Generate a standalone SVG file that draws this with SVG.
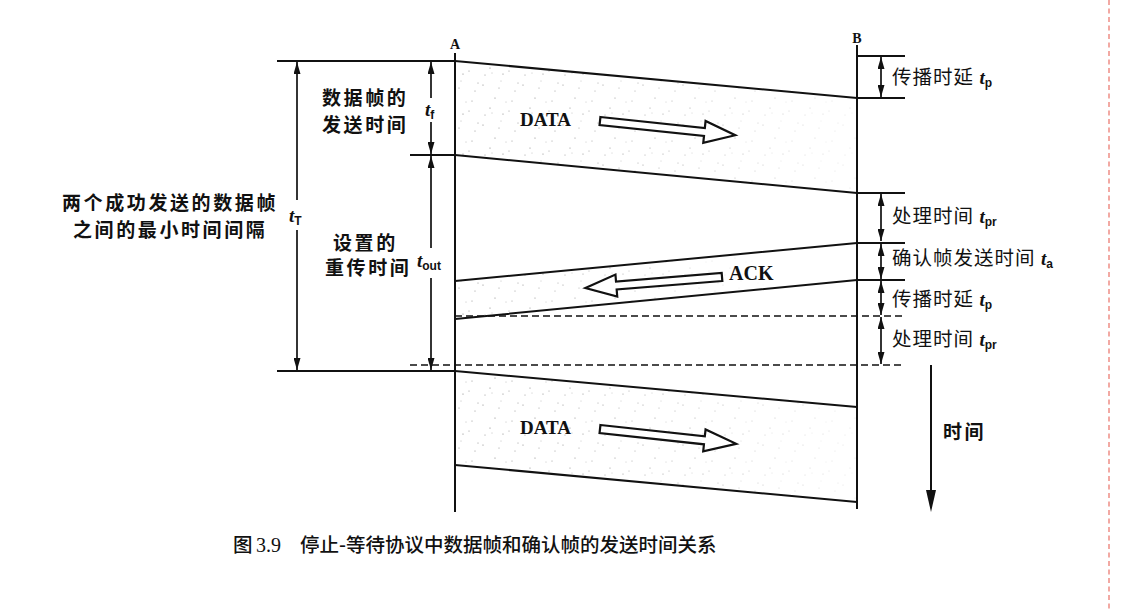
<svg xmlns="http://www.w3.org/2000/svg" width="1121" height="611" viewBox="0 0 1121 611">
<style>
.ln{stroke:#111;stroke-width:2;fill:none}
.dl{stroke:#111;stroke-width:1.6;fill:none;stroke-dasharray:7 4}
.dim{stroke:#111;stroke-width:1.7;fill:none;marker-end:url(#ah)}
.cn{font-family:"Noto Sans CJK SC",sans-serif;font-weight:bold;font-size:19px;fill:#111;letter-spacing:2.6px}
.cr{font-family:"Noto Sans CJK SC",sans-serif;font-weight:normal;font-size:19.5px;fill:#111;letter-spacing:1px}
.it{font-family:"Liberation Serif",serif;font-style:italic;font-weight:bold;font-size:19px;fill:#111;letter-spacing:0}
.sb{font-family:"Liberation Sans",sans-serif;font-style:normal;font-weight:bold;font-size:12px;fill:#111;letter-spacing:0}
.lat{font-family:"Liberation Serif",serif;font-weight:bold;fill:#111}
.arr{fill:#fff;stroke:#111;stroke-width:2.2;stroke-linejoin:miter}
</style>
<defs>
<marker id="ah" markerUnits="userSpaceOnUse" markerWidth="12" markerHeight="7" refX="12" refY="3.5" orient="auto">
<path d="M0,0 L12,3.5 L0,7 z" fill="#111"/>
</marker>
<pattern id="stip" width="40" height="40" patternUnits="userSpaceOnUse">
<g fill="#777">
<circle cx="3" cy="5" r="0.6"/><circle cx="19" cy="8" r="0.5"/><circle cx="35" cy="11" r="0.5"/>
<circle cx="15" cy="18" r="0.6"/><circle cx="32" cy="21" r="0.5"/><circle cx="10" cy="28" r="0.6"/>
<circle cx="29" cy="31" r="0.5"/><circle cx="5" cy="35" r="0.5"/><circle cx="23" cy="34" r="0.6"/>
<circle cx="38" cy="3" r="0.5"/><circle cx="26" cy="22" r="0.45"/><circle cx="12" cy="33" r="0.45"/>
<circle cx="21" cy="1" r="0.45"/>
</g>
</pattern>
<linearGradient id="fade" x1="0" y1="0" x2="1" y2="0">
<stop offset="0" stop-color="#fff" stop-opacity="1"/>
<stop offset="0.55" stop-color="#fff" stop-opacity="0.7"/>
<stop offset="1" stop-color="#fff" stop-opacity="0.2"/>
</linearGradient>
<linearGradient id="fade2" x1="0" y1="0" x2="1" y2="0">
<stop offset="0" stop-color="#fff" stop-opacity="1"/>
<stop offset="0.45" stop-color="#fff" stop-opacity="0.6"/>
<stop offset="0.8" stop-color="#fff" stop-opacity="0"/>
</linearGradient>
<mask id="m1" maskContentUnits="objectBoundingBox"><rect width="1" height="1" fill="url(#fade)"/></mask>
<mask id="m2" maskContentUnits="objectBoundingBox"><rect width="1" height="1" fill="url(#fade2)"/></mask>
</defs>
<rect width="1121" height="611" fill="#fff"/>

<g id="frame-data1">
<polygon points="455,61 857,98 857,193 455,155" fill="url(#stip)" mask="url(#m1)"/>
<polyline class="ln" points="277,61 455,61 857,98 905,98"/>
<polyline class="ln" points="410,155 455,155 857,193 905,193"/>
<text class="lat" x="520" y="126" font-size="19">DATA</text>
<polygon class="arr" transform="translate(600,121) rotate(6)" points="0,-4 105,-4 105,-11 136,0 105,11 105,4 0,4"/>
</g>

<g id="frame-ack">
<polygon points="455,281 857,243 857,280 455,319" fill="url(#stip)" mask="url(#m2)"/>
<polyline class="ln" points="455,281 857,243 905,243"/>
<polyline class="ln" points="455,319 857,280 905,280"/>
<text class="lat" x="729" y="280" font-size="20">ACK</text>
<polygon class="arr" transform="translate(722,277) rotate(175.4)" points="0,-4 106,-4 106,-11 137,0 106,11 106,4 0,4"/>
</g>

<g id="frame-data2">
<polygon points="455,371 857,407 857,502 455,465" fill="url(#stip)" mask="url(#m1)"/>
<polyline class="ln" points="277,371 455,371 857,407"/>
<line class="ln" x1="455" y1="465" x2="857" y2="502"/>
<text class="lat" x="520" y="434" font-size="19">DATA</text>
<polygon class="arr" transform="translate(600,429) rotate(6.2)" points="0,-4 105,-4 105,-11 137,0 105,11 105,4 0,4"/>
</g>

<g id="lifeline-A">
<line class="ln" x1="455" y1="53" x2="455" y2="512"/>
<text class="lat" x="455" y="49" font-size="14" text-anchor="middle">A</text>
</g>
<g id="lifeline-B">
<line class="ln" x1="857" y1="45" x2="857" y2="509"/>
<text class="lat" x="857" y="43" font-size="14" text-anchor="middle">B</text>
</g>

<g id="connectors">
<line class="ln" x1="857" y1="56" x2="905" y2="56"/>
<line class="dl" x1="455" y1="316" x2="905" y2="316"/>
<line class="dl" x1="410" y1="365" x2="905" y2="365"/>
<line class="dim" x1="297" y1="200" x2="297" y2="62"/>
<line class="dim" x1="297" y1="230" x2="297" y2="370"/>
<line class="dim" x1="431" y1="98" x2="431" y2="62"/>
<line class="dim" x1="431" y1="122" x2="431" y2="154"/>
<line class="dim" x1="431" y1="248" x2="431" y2="156"/>
<line class="dim" x1="431" y1="278" x2="431" y2="370"/>
<line class="dim" x1="881" y1="77" x2="881" y2="57"/>
<line class="dim" x1="881" y1="77" x2="881" y2="97"/>
<line class="dim" x1="881" y1="217" x2="881" y2="194"/>
<line class="dim" x1="881" y1="217" x2="881" y2="241"/>
<line class="dim" x1="881" y1="261" x2="881" y2="244"/>
<line class="dim" x1="881" y1="261" x2="881" y2="279"/>
<line class="dim" x1="881" y1="298" x2="881" y2="281"/>
<line class="dim" x1="881" y1="298" x2="881" y2="315"/>
<line class="dim" x1="881" y1="340" x2="881" y2="317"/>
<line class="dim" x1="881" y1="340" x2="881" y2="364"/>
<line class="ln" x1="931" y1="365" x2="931" y2="498"/>
<path d="M926,490 L931,512 L936,490 z" fill="#111"/>
</g>

<g id="label-tT">
<text class="cn" x="62" y="210">两个成功发送的数据帧</text>
<text class="cn" x="73" y="237">之间的最小时间间隔</text>
<text class="it" x="289" y="222">t<tspan class="sb" dy="3">T</tspan></text>
</g>
<g id="label-tf">
<text class="cn" x="322" y="105" letter-spacing="2">数据帧的</text>
<text class="cn" x="322" y="132" letter-spacing="2">发送时间</text>
<text class="it" x="425" y="116">t<tspan class="sb" dy="3">f</tspan></text>
</g>
<g id="label-tout">
<text class="cn" x="333" y="250" letter-spacing="2">设置的</text>
<text class="cn" x="325" y="275" letter-spacing="2">重传时间</text>
<text class="it" x="417" y="267">t<tspan class="sb" dy="3">out</tspan></text>
</g>
<g id="labels-right">
<text class="cr" x="892" y="84">传播时延 <tspan class="it">t</tspan><tspan class="sb" dy="3">p</tspan></text>
<text class="cr" x="892" y="223">处理时间 <tspan class="it">t</tspan><tspan class="sb" dy="3">pr</tspan></text>
<text class="cr" x="892" y="265">确认帧发送时间 <tspan class="it">t</tspan><tspan class="sb" dy="3">a</tspan></text>
<text class="cr" x="892" y="306">传播时延 <tspan class="it">t</tspan><tspan class="sb" dy="3">p</tspan></text>
<text class="cr" x="892" y="346">处理时间 <tspan class="it">t</tspan><tspan class="sb" dy="3">pr</tspan></text>
<text class="cn" x="943" y="439" letter-spacing="1">时间</text>
</g>

<g id="caption">
<text x="233" y="552" font-family="'Noto Sans CJK SC',sans-serif" font-size="19.5" font-weight="500" fill="#111">图</text>
<text x="256" y="552" font-family="'Liberation Serif',serif" font-size="20" fill="#111">3.9</text>
<text x="300" y="552" font-family="'Noto Sans CJK SC',sans-serif" font-size="19.5" font-weight="500" fill="#111">停止-等待协议中数据帧和确认帧的发送时间关系</text>
</g>

<line x1="1109" y1="0" x2="1109" y2="611" stroke="#f2a9a3" stroke-width="2" stroke-dasharray="5 3.5"/>
</svg>
